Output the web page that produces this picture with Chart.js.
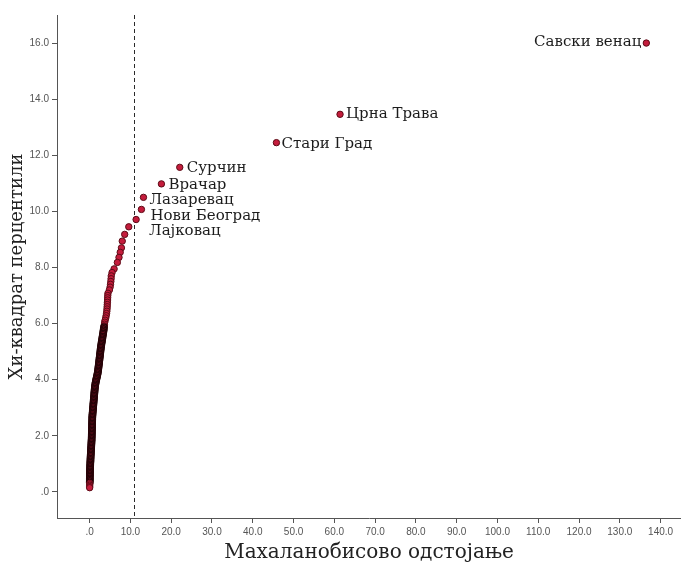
<!DOCTYPE html>
<html>
<head>
<meta charset="utf-8">
<title>Махаланобисово одстојање</title>
<script src="https://cdn.jsdelivr.net/npm/chart.js@4.4.0/dist/chart.umd.min.js"></script>
<style>
  html, body { margin: 0; padding: 0; background: #fff; }
  #wrap { width: 681px; height: 563px; }
</style>
</head>
<body>
<div id="wrap"><canvas id="qq"></canvas></div>
<script>
// --- DATA (ordered from the largest percentile down) ---
const municipalities = ['Савски венац', 'Црна Трава', 'Стари Град', 'Сурчин', 'Врачар', 'Лазаревац', 'Нови Београд', 'Лајковац'];

const distances = [
  136.5, 61.4, 45.8, 22.1, 17.6, 13.2, 12.7, 11.4,
  9.6, 8.6, 8.0, 7.8, 7.5, 7.2, 6.8, 6.0, 5.5,
  5.30, 5.26, 5.20, 5.12, 5.02, 4.85,
  4.50, 4.45, 4.42, 4.40, 4.36, 4.33, 4.30, 4.26, 4.22, 4.15, 4.05, 3.95, 3.80, 3.70,
  3.64, 3.58, 3.52, 3.47, 3.42, 3.36, 3.31, 3.25, 3.18, 3.13, 3.07, 3.02, 2.96, 2.91, 2.85, 2.80,
  2.76, 2.71, 2.67, 2.63, 2.59, 2.55, 2.51, 2.46, 2.42, 2.38, 2.34, 2.30, 2.26, 2.21, 2.17, 2.13,
  2.08, 2.03, 1.98, 1.91, 1.84, 1.76, 1.68, 1.60, 1.53, 1.46, 1.40, 1.35, 1.31, 1.27, 1.23, 1.20,
  1.17, 1.14, 1.11, 1.08, 1.05, 1.02, 0.99, 0.96, 0.93, 0.90, 0.87, 0.84, 0.81, 0.78, 0.75, 0.72,
  0.69, 0.66, 0.65, 0.64, 0.63, 0.62, 0.61, 0.60, 0.59, 0.58, 0.57, 0.56, 0.55, 0.54, 0.53, 0.52,
  0.51, 0.50, 0.48, 0.46, 0.44, 0.42, 0.40, 0.38, 0.36, 0.34, 0.32, 0.30, 0.28, 0.26, 0.24, 0.22,
  0.21, 0.19, 0.17, 0.15, 0.14, 0.12, 0.11, 0.10, 0.09, 0.08, 0.07, 0.07, 0.06, 0.05, 0.05, 0.04,
  0.03, 0.03, 0.02, 0.01, 0.01
];

const percentiles = [
  16.00, 13.46, 12.45, 11.57, 10.98, 10.50, 10.07, 9.71,
  9.45, 9.18, 8.94, 8.70, 8.54, 8.36, 8.18, 7.95, 7.82,
  7.70, 7.60, 7.50, 7.40, 7.30, 7.20,
  7.08, 7.00, 6.92, 6.84, 6.76, 6.68, 6.60, 6.52, 6.44, 6.36, 6.28, 6.20, 6.12, 6.05,
  5.98, 5.92, 5.87, 5.81, 5.76, 5.70, 5.65, 5.60, 5.54, 5.49, 5.44, 5.39, 5.34, 5.29, 5.24, 5.19,
  5.14, 5.09, 5.04, 4.99, 4.94, 4.89, 4.84, 4.79, 4.74, 4.69, 4.64, 4.59, 4.54, 4.49, 4.44, 4.39,
  4.34, 4.29, 4.24, 4.19, 4.14, 4.09, 4.04, 3.99, 3.94, 3.89, 3.84, 3.79, 3.74, 3.69, 3.64, 3.59,
  3.54, 3.49, 3.44, 3.39, 3.34, 3.29, 3.24, 3.19, 3.14, 3.09, 3.04, 2.99, 2.94, 2.89, 2.84, 2.79,
  2.74, 2.69, 2.64, 2.59, 2.54, 2.49, 2.44, 2.39, 2.34, 2.29, 2.24, 2.19, 2.14, 2.09, 2.04, 1.99,
  1.94, 1.89, 1.84, 1.79, 1.74, 1.69, 1.64, 1.59, 1.54, 1.49, 1.44, 1.39, 1.34, 1.29, 1.24, 1.19,
  1.14, 1.09, 1.04, 0.99, 0.94, 0.89, 0.84, 0.79, 0.74, 0.69, 0.64, 0.59, 0.54, 0.49, 0.44, 0.39,
  0.34, 0.29, 0.24, 0.19, 0.15
];

const xTicks = [0, 10, 20, 30, 40, 50, 60, 70, 80, 90, 100, 110, 120, 130, 140];
const yTicks = [0, 2, 4, 6, 8, 10, 12, 14, 16];
const cutoff = 10.9; // critical distance, dashed reference line

// --- HELPERS ---
const fmt = v => (v === 0 ? '.0' : v.toFixed(1));
const points = distances.map((d, i) => ({ x: d, y: percentiles[i] }));

// the packed lower part of the curve gets a heavier outline
const isPacked = ctx => ctx.raw && ctx.raw.y < 5.9 && ctx.raw.y > 0.3;

// dashed vertical line at the cutoff value
const cutoffLine = {
  id: 'cutoffLine',
  beforeDatasetsDraw(chart) {
    const { ctx, chartArea, scales } = chart;
    const px = Math.round(scales.x.getPixelForValue(cutoff)) + 0.5;
    ctx.save();
    ctx.strokeStyle = '#2a2a2a';
    ctx.lineWidth = 1;
    ctx.setLineDash([4, 3]);
    ctx.beginPath();
    ctx.moveTo(px, chartArea.top);
    ctx.lineTo(px, chartArea.bottom);
    ctx.stroke();
    ctx.restore();
  }
};

// municipality names next to the outlying points
const pointNames = {
  id: 'pointNames',
  afterDatasetsDraw(chart, args, opts) {
    const { ctx } = chart;
    const meta = chart.getDatasetMeta(0);
    ctx.save();
    ctx.font = opts.font;
    ctx.fillStyle = opts.color;
    ctx.textBaseline = 'middle';
    municipalities.forEach((name, i) => {
      const el = meta.data[i];
      const [dx, dy] = opts.shift[i];
      ctx.textAlign = dx < 0 ? 'right' : 'left';
      ctx.fillText(name, el.x + dx, el.y + dy);
    });
    ctx.restore();
  }
};

const tickFont = { family: "'Liberation Sans', Arial, sans-serif", size: 10 };

new Chart(document.getElementById('qq'), {
  type: 'scatter',
  data: {
    datasets: [{
      data: points,
      pointRadius: 3.2,
      pointBorderWidth: ctx => (isPacked(ctx) ? 1.4 : 1),
      backgroundColor: '#c41c3c',
      borderColor: ctx => (isPacked(ctx) ? '#260307' : '#5c0b16')
    }]
  },
  options: {
    responsive: true,
    maintainAspectRatio: false,
    animation: false,
    devicePixelRatio: 1,
    layout: { autoPadding: false, padding: { top: 15, right: 0, left: 0, bottom: 0 } },
    plugins: {
      legend: { display: false },
      tooltip: { enabled: false },
      pointNames: {
        font: "15px 'DejaVu Serif', serif",
        color: '#1c1c1c',
        shift: [[-5, -1], [6, 0], [5, 1], [7, 1], [7, 1.5], [6, 3], [9, 7], [13, 12]]
      }
    },
    scales: {
      x: {
        type: 'linear',
        min: -8,
        max: 145,
        afterBuildTicks: s => { s.ticks = xTicks.map(v => ({ value: v })); },
        afterFit: s => { s.height = 45; },
        ticks: { font: tickFont, color: '#555', padding: 3, maxRotation: 0, autoSkip: false, callback: fmt },
        grid: { drawOnChartArea: false, drawTicks: true, tickLength: 5, color: '#555' },
        border: { color: '#555' },
        title: {
          display: true,
          text: 'Махаланобисово одстојање',
          font: { family: "'DejaVu Serif', serif", size: 20, lineHeight: 1 },
          color: '#222',
          padding: { top: 0, bottom: 0 }
        }
      },
      y: {
        type: 'linear',
        min: -0.93,
        max: 17,
        afterBuildTicks: s => { s.ticks = yTicks.map(v => ({ value: v })); },
        afterFit: s => { s.width = 57; },
        ticks: { font: tickFont, color: '#555', padding: 3, autoSkip: false, callback: fmt },
        grid: { drawOnChartArea: false, drawTicks: true, tickLength: 5, color: '#555' },
        border: { color: '#555' },
        title: {
          display: true,
          text: 'Хи-квадрат перцентили',
          font: { family: "'DejaVu Serif', serif", size: 18, lineHeight: 1 },
          color: '#222',
          padding: { top: 8, bottom: 0 }
        }
      }
    }
  },
  plugins: [cutoffLine, pointNames]
});
</script>
</body>
</html>
